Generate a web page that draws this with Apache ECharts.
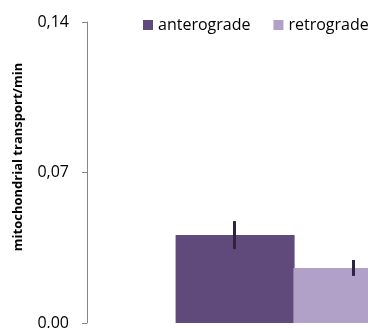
<!DOCTYPE html>
<html>
<head>
<meta charset="utf-8">
<script src="https://cdn.jsdelivr.net/npm/echarts@6/dist/echarts.min.js"></script>
<style>
  html, body { margin: 0; padding: 0; background: #fff; }
  #chart { width: 368px; height: 328px; }
</style>
</head>
<body>
<div id="chart"></div>
<script>
// Mitochondrial transport rates (events per minute) with error bars
const categories = ['transport'];
const seriesNames = ['anterograde', 'retrograde'];
const anterograde = [0.0409];
const retrograde = [0.0256];
const anterogradeErr = [0.0065];
const retrogradeErr = [0.0037];
const yTicks = [0, 0.07, 0.14];

const colors = ['#604a7b', '#b1a0c7'];
const BAR_W = 119;
const FONT = '"Open Sans", sans-serif';

const chart = echarts.init(document.getElementById('chart'));

function errorSeries(values, errs, offset) {
  return {
    type: 'custom',
    name: 'err',
    z: 5,
    data: values.map((v, i) => [i, v, errs[i]]),
    renderItem: function (params, api) {
      const x = api.coord([api.value(0), 0])[0] + offset;
      const hi = api.coord([api.value(0), api.value(1) + api.value(2)])[1];
      const lo = api.coord([api.value(0), api.value(1) - api.value(2)])[1];
      return {
        type: 'line',
        shape: { x1: x, y1: hi, x2: x, y2: lo },
        style: { stroke: '#2e2440', lineWidth: 3 }
      };
    }
  };
}

chart.setOption({
  animation: false,
  textStyle: { fontFamily: FONT },
  legend: {
    data: seriesNames,
    left: 143,
    top: 17,
    width: 260,
    padding: 0,
    itemWidth: 10,
    itemHeight: 10,
    itemGap: 23,
    icon: 'rect',
    textStyle: { fontFamily: FONT, fontSize: 16, color: '#000' }
  },
  grid: { left: 87, top: 22, bottom: 5, right: -133, outerBoundsMode: 'none', containLabel: false },
  xAxis: {
    type: 'category',
    data: categories,
    show: false
  },
  yAxis: {
    type: 'value',
    min: yTicks[0],
    max: yTicks[yTicks.length - 1],
    interval: yTicks[1] - yTicks[0],
    name: 'mitochondrial transport/min',
    nameLocation: 'middle',
    nameGap: 62,
    nameTextStyle: { fontFamily: FONT, fontSize: 13, fontWeight: 'bold', color: '#000', padding: [0, 0, 0, 31] },
    axisLine: { show: true, lineStyle: { color: '#868686', width: 1 } },
    axisTick: { show: true, length: 5, lineStyle: { color: '#868686' } },
    axisLabel: {
      fontFamily: FONT, fontSize: 16, color: '#000', margin: 18,
      formatter: v => v.toFixed(2).replace('.', ',')
    },
    splitLine: { show: false }
  },
  series: [
    { name: seriesNames[0], type: 'bar', data: anterograde, barWidth: BAR_W, barGap: '-1%', itemStyle: { color: colors[0] } },
    { name: seriesNames[1], type: 'bar', data: retrograde, barWidth: BAR_W, itemStyle: { color: colors[1] } },
    errorSeries(anterograde, anterogradeErr, -BAR_W / 2),
    errorSeries(retrograde, retrogradeErr, BAR_W / 2)
  ]
});
</script>
</body>
</html>
